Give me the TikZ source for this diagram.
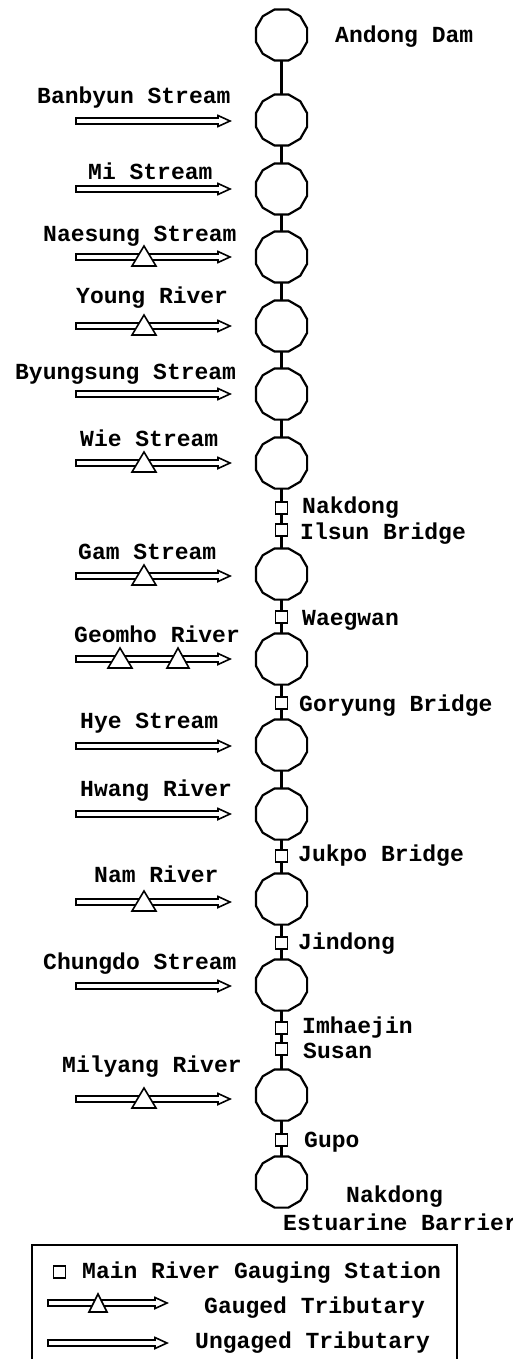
\documentclass[tikz,border=0pt]{standalone}
\usepackage{fontspec}
\setmonofont{Liberation Mono}
\usetikzlibrary{shapes.geometric}
\newcommand\tribflow[3]{% x, y, length
  \draw[flow] (#1,#2-3) -- (#1+#3-12,#2-3) -- (#1+#3-12,#2-5.5) -- (#1+#3,#2)
    -- (#1+#3-12,#2+5.5) -- (#1+#3-12,#2+3) -- (#1,#2+3) -- cycle;}
\newcommand\gaugemark[4]{% x, y, half width, height up
  \draw[gauge] (#1,#2-#4) -- (#1+#3,#2+9) -- (#1-#3,#2+9) -- cycle;}
\begin{document}
\begin{tikzpicture}[x=1pt,y=-1pt,
  reach/.style={draw, line width=2.2pt, regular polygon, regular polygon sides=12,
    minimum size=53pt, inner sep=0pt, outer sep=0pt},
  station/.style={draw, line width=1.6pt, rectangle, minimum size=12pt,
    inner sep=0pt, outer sep=0pt, fill=white},
  lbl/.style={anchor=base west, inner sep=0pt,
    font=\fontsize{23}{25}\selectfont\ttfamily\bfseries},
  flow/.style={draw, line width=1.6pt, fill=white, line join=miter},
  gauge/.style={draw, line width=1.6pt, fill=white, line join=miter},
  river/.style={line width=2.1pt},
  legendbox/.style={draw, line width=1.6pt}]
\useasboundingbox (0,0) rectangle (512,1359);

% main river reaches and stations
\node[reach] (c1) at (281.5,35) {};
\node[reach] (c2) at (281.5,120) {};
\node[reach] (c3) at (281.5,189) {};
\node[reach] (c4) at (281.5,257) {};
\node[reach] (c5) at (281.5,326) {};
\node[reach] (c6) at (281.5,394) {};
\node[reach] (c7) at (281.5,463) {};
\node[station] (s1) at (281.5,508) {};
\node[station] (s2) at (281.5,530) {};
\node[reach] (c8) at (281.5,574) {};
\node[station] (s3) at (281.5,617) {};
\node[reach] (c9) at (281.5,659) {};
\node[station] (s4) at (281.5,703) {};
\node[reach] (c10) at (281.5,745) {};
\node[reach] (c11) at (281.5,814) {};
\node[station] (s5) at (281.5,856) {};
\node[reach] (c12) at (281.5,899) {};
\node[station] (s6) at (281.5,943) {};
\node[reach] (c13) at (281.5,985) {};
\node[station] (s7) at (281.5,1028) {};
\node[station] (s8) at (281.5,1049) {};
\node[reach] (c14) at (281.5,1095) {};
\node[station] (s9) at (281.5,1140) {};
\node[reach] (c15) at (281.5,1182) {};

\foreach \a/\b in {c1/c2,c2/c3,c3/c4,c4/c5,c5/c6,c6/c7,c7/s1,s1/s2,s2/c8,c8/s3,
  s3/c9,c9/s4,s4/c10,c10/c11,c11/s5,s5/c12,c12/s6,s6/c13,c13/s7,s7/s8,s8/c14,
  c14/s9,s9/c15}
  \draw[river] (\a) -- (\b);

% station labels
\node[lbl] (tAndong) at (335,43) {Andong Dam};
\node[lbl] (tNakdong) at (302,513) {Nakdong};
\node[lbl] (tIlsun) at (300,539) {Ilsun Bridge};
\node[lbl] (tWaegwan) at (302,625) {Waegwan};
\node[lbl] (tGoryung) at (299,711) {Goryung Bridge};
\node[lbl] (tJukpo) at (298,861) {Jukpo Bridge};
\node[lbl] (tJindong) at (298,949) {Jindong};
\node[lbl] (tImhaejin) at (302,1033) {Imhaejin};
\node[lbl] (tSusan) at (303,1058) {Susan};
\node[lbl] (tGupo) at (304,1147) {Gupo};
\node[lbl] (tEstA) at (346,1202) {Nakdong};
\node[lbl] (tEstB) at (283,1230) {Estuarine Barrier};

% tributaries
\node[lbl] (tBanbyun) at (37,104) {Banbyun Stream};
\tribflow{76}{121}{154}
\node[lbl] (tMi) at (88,180) {Mi Stream};
\tribflow{76}{189}{154}
\node[lbl] (tNaesung) at (43,241) {Naesung Stream};
\tribflow{76}{257}{154}
\gaugemark{144}{257}{12}{11}
\node[lbl] (tYoung) at (76,303) {Young River};
\tribflow{76}{326}{154}
\gaugemark{144}{326}{12}{11}
\node[lbl] (tByungsung) at (15,379) {Byungsung Stream};
\tribflow{76}{394}{154}
\node[lbl] (tWie) at (80,446) {Wie Stream};
\tribflow{76}{463}{154}
\gaugemark{144}{463}{12}{11}
\node[lbl] (tGam) at (78,559) {Gam Stream};
\tribflow{76}{576}{154}
\gaugemark{144}{576}{12}{11}
\node[lbl] (tGeomho) at (74,642) {Geomho River};
\tribflow{76}{659}{154}
\gaugemark{120}{659}{12}{11}
\gaugemark{178}{659}{11}{11}
\node[lbl] (tHye) at (80,728) {Hye Stream};
\tribflow{76}{746}{154}
\node[lbl] (tHwang) at (80,796) {Hwang River};
\tribflow{76}{814}{154}
\node[lbl] (tNam) at (94,882) {Nam River};
\tribflow{76}{902}{154}
\gaugemark{144}{902}{12}{11}
\node[lbl] (tChungdo) at (43,969) {Chungdo Stream};
\tribflow{76}{986}{154}
\node[lbl] (tMilyang) at (62,1072) {Milyang River};
\tribflow{76}{1099}{154}
\gaugemark{144}{1099}{12}{11}

% legend
\draw[legendbox] (32,1245) rectangle (457,1380);
\node[station] (lgSq) at (59.5,1272) {};
\node[lbl] (lgMain) at (82,1278) {Main River Gauging Station};
\tribflow{48}{1303}{119}
\gaugemark{98}{1303}{9}{9}
\node[lbl] (lgGauged) at (204,1313) {Gauged Tributary};
\tribflow{48}{1343}{119}
\node[lbl] (lgUngaged) at (195,1348) {Ungaged Tributary};
\end{tikzpicture}
\end{document}
